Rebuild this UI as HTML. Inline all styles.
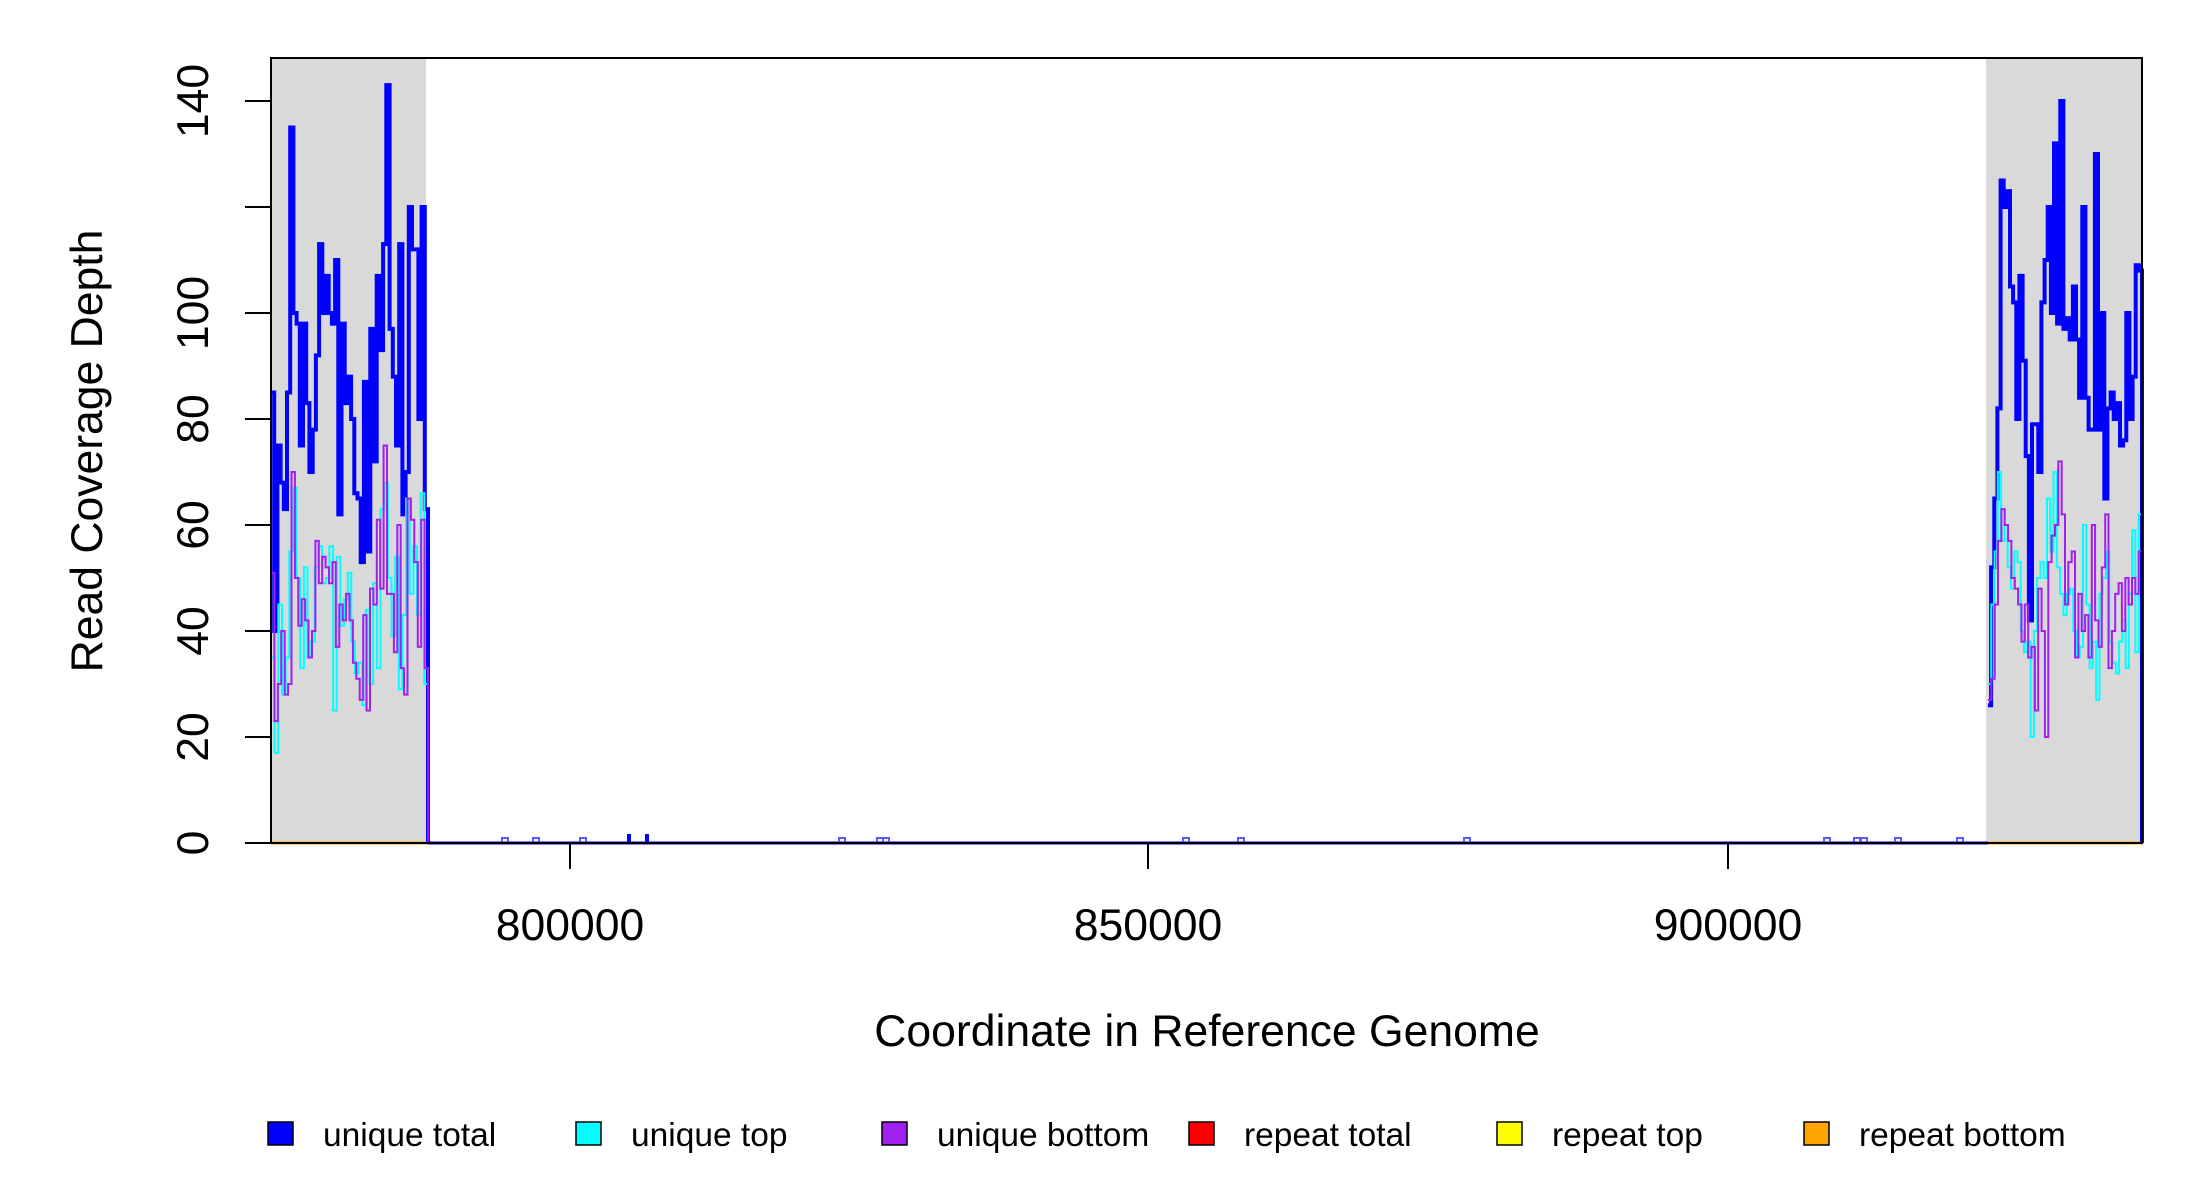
<!DOCTYPE html>
<html><head><meta charset="utf-8"><style>
html,body{margin:0;padding:0;background:#fff;}
svg{display:block;font-family:"Liberation Sans",sans-serif;}
</style></head><body>
<svg id="s" width="2200" height="1200" viewBox="0 0 2200 1200" xmlns="http://www.w3.org/2000/svg">
<rect x="0" y="0" width="2200" height="1200" fill="#fff"/>
<rect x="271" y="58" width="155" height="785" fill="#d9d9d9"/>
<rect x="1986" y="58" width="156" height="785" fill="#d9d9d9"/>
<g id="data"></g>
<rect x="271" y="58" width="1871" height="785" fill="none" stroke="#000" stroke-width="2"/>
<g stroke="#000" stroke-width="2">
<line x1="271" y1="843" x2="245" y2="843"/><line x1="271" y1="737" x2="245" y2="737"/>
<line x1="271" y1="631" x2="245" y2="631"/><line x1="271" y1="525" x2="245" y2="525"/>
<line x1="271" y1="419" x2="245" y2="419"/><line x1="271" y1="313" x2="245" y2="313"/>
<line x1="271" y1="207" x2="245" y2="207"/><line x1="271" y1="101" x2="245" y2="101"/>
<line x1="570" y1="843" x2="570" y2="869"/><line x1="1148" y1="843" x2="1148" y2="869"/><line x1="1728" y1="843" x2="1728" y2="869"/>
</g>
<g font-size="44.5" text-anchor="middle" fill="#000">
<text transform="translate(208,843) rotate(-90)">0</text>
<text transform="translate(208,737) rotate(-90)">20</text>
<text transform="translate(208,631) rotate(-90)">40</text>
<text transform="translate(208,525) rotate(-90)">60</text>
<text transform="translate(208,419) rotate(-90)">80</text>
<text transform="translate(208,313) rotate(-90)">100</text>
<text transform="translate(208,101) rotate(-90)">140</text>
<text x="570" y="940">800000</text>
<text x="1148" y="940">850000</text>
<text x="1728" y="940">900000</text>
<text x="1207" y="1046">Coordinate in Reference Genome</text>
<text transform="translate(102,451) rotate(-90)">Read Coverage Depth</text>
</g>
<g fill="#000" stroke="#000" stroke-width="1.5">
<rect x="268" y="1122" width="25" height="23" fill="#0000ff"/>
<rect x="576" y="1122" width="25" height="23" fill="#00ffff"/>
<rect x="882" y="1122" width="25" height="23" fill="#a020f0"/>
<rect x="1189" y="1122" width="25" height="23" fill="#ff0000"/>
<rect x="1497" y="1122" width="25" height="23" fill="#ffff00"/>
<rect x="1804" y="1122" width="25" height="23" fill="#ffa500"/>
</g>
<g font-size="33.5" fill="#000">
<text x="323" y="1146">unique total</text>
<text x="631" y="1146">unique top</text>
<text x="937" y="1146">unique bottom</text>
<text x="1244" y="1146">repeat total</text>
<text x="1552" y="1146">repeat top</text>
<text x="1859" y="1146">repeat bottom</text>
</g>
</svg>
<script>
(function(){
var g=document.getElementById('data');var NS='http://www.w3.org/2000/svg';
function y(v){return 843-v*5.3;}
function step(x0,x1,vals,color,w){
 var n=vals.length,dx=(x1-x0)/n,d='M'+x0+','+y(vals[0]);
 for(var i=0;i<n;i++){ if(i>0) d+='V'+y(vals[i]).toFixed(1); d+='H'+(x0+(i+1)*dx).toFixed(1);}
 d+='V'+y(0);
 var p=document.createElementNS(NS,'path');p.setAttribute('d',d);p.setAttribute('fill','none');
 p.setAttribute('stroke',color);p.setAttribute('stroke-width',w);g.appendChild(p);
}
function line(x1,x2,c,w){var l=document.createElementNS(NS,'line');l.setAttribute('x1',x1);l.setAttribute('x2',x2);l.setAttribute('y1',843);l.setAttribute('y2',843);l.setAttribute('stroke',c);l.setAttribute('stroke-width',w);g.appendChild(l);}
line(271,2142,'#ffa500',3);
var bl=[85,40,75,68,63,85,135,100,98,75,98,83,70,78,92,113,100,107,100,98,110,62,98,83,88,80,66,65,53,87,55,97,72,107,93,113,143,97,88,75,113,62,70,120,112,112,80,120,63];
var cl=[35,17,45,28,35,55,67,50,33,52,35,38,52,56,49,50,56,25,54,41,46,51,38,32,34,26,44,30,49,33,63,68,50,39,54,29,43,65,47,56,43,66,30];
var pl=[51,23,30,40,28,30,70,50,41,46,42,35,40,57,49,54,52,49,53,37,45,42,47,42,34,31,27,43,25,48,45,61,48,75,47,47,36,60,33,28,65,61,53,37,61,33];
var br=[26,52,65,82,125,120,123,105,102,80,107,91,73,42,79,79,70,102,110,120,100,132,98,140,97,99,95,105,95,84,120,84,78,78,130,78,100,65,82,85,80,83,75,76,100,80,88,109,108];
var cr=[30,45,55,70,57,60,52,48,55,53,40,36,38,20,40,50,53,50,65,55,70,52,47,43,47,48,40,35,37,60,45,33,38,27,47,50,55,38,34,32,38,42,33,47,59,36,62];
var pr=[27,31,45,57,63,60,57,50,48,45,38,45,35,37,25,48,40,20,53,58,60,72,62,45,53,55,35,47,40,43,35,60,42,37,52,62,33,40,47,49,40,50,45,50,47,55];
step(271,428,bl,'#0000ff',4);
step(1988,2142,br,'#0000ff',4);
step(271,428,cl,'#00ffff',2);
step(1988,2142,cr,'#00ffff',2);
step(271,428,pl,'#a020f0',2);
step(1988,2142,pr,'#a020f0',2);
line(428,1988,'#0000ff',3);
line(428,1988,'#6a4cf5',2);
var bumps=[505,536,583,842,880,886,1186,1241,1467,1827,1857,1864,1898,1960];
bumps.forEach(function(x){var r=document.createElementNS(NS,'rect');r.setAttribute('x',x-3);r.setAttribute('y',838);r.setAttribute('width',6);r.setAttribute('height',5);r.setAttribute('fill','none');r.setAttribute('stroke','#5a5af5');r.setAttribute('stroke-width',2);g.appendChild(r);});
[629,647].forEach(function(x){var r=document.createElementNS(NS,'rect');r.setAttribute('x',x-2);r.setAttribute('y',834);r.setAttribute('width',4);r.setAttribute('height',9);r.setAttribute('fill','#0000ff');g.appendChild(r);});
})();
</script>
</body></html>
